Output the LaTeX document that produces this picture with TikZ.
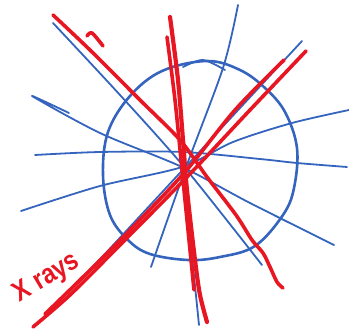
\documentclass[tikz,border=0pt]{standalone}
\usepackage{fontspec}
\setmainfont{Liberation Sans}
\definecolor{pen}{RGB}{52,100,190}
\definecolor{ink}{RGB}{232,22,34}
\begin{document}
\begin{tikzpicture}[x=1pt,y=-1pt,
  bluestroke/.style={draw=pen,line width=1.8pt,line cap=round,line join=round},
  redstroke/.style={draw=ink,line width=3.6pt,line cap=round,line join=round}]
\useasboundingbox (0,0) rectangle (349,329);
% blob circle
\draw[bluestroke,line width=2.6pt] plot[smooth cycle,tension=0.6] coordinates {
 (207,61) (240,70) (265,88) (285,112) (297,148) (294,188) (283,215) (255,246)
 (220,257) (188,260) (150,254) (128,240) (110,215) (103,175) (108,132) (130,96) (162,71)};
% blue rays
\draw[bluestroke] plot[smooth] coordinates {(53,23) (120,95) (185,168) (262,265)};
\draw[bluestroke] plot[smooth] coordinates {(238,5) (223,68) (185,170) (151,267)};
\draw[bluestroke] (302,41) -- (79,282);
\draw[bluestroke] plot[smooth] coordinates {(349,110) (292,123) (233,142) (182,167) (100,186) (21,211)};
\draw[bluestroke] plot[smooth] coordinates {(35,155) (100,152) (183,152) (260,159) (297,163) (347,167)};
\draw[bluestroke] plot[smooth] coordinates {(69,113) (32,96) (100,133) (182,167) (250,203) (334,245)};
\draw[bluestroke] plot[smooth] coordinates {(183,67) (203,60) (225,70)};
\draw[bluestroke] (183,168) -- (199,325);
% red rays
\draw[redstroke] plot[smooth] coordinates {(53,15) (90,50) (140,100) (180,140) (207,177) (236,215) (252,240) (263,253) (270,267) (277,282) (283,288)};
\draw[redstroke] plot[smooth] coordinates {(87,36) (92,33) (103,46)};
\draw[redstroke,line width=4.2pt] plot[smooth] coordinates {(170,17) (178,80) (183,140) (187,190) (195,260) (200,295) (207,322)};
\draw[redstroke] plot[smooth] coordinates {(167,37) (175,100) (182,170) (188,230) (194,290)};
\draw[redstroke] plot[smooth] coordinates {(306,51) (250,110) (187,177) (120,245) (70,295) (33,327)};
\draw[redstroke] plot[smooth] coordinates {(284,60) (235,110) (185,172) (130,230) (80,280) (45,314)};
% label
\node[text=ink,font=\fontsize{28}{28}\selectfont\bfseries,rotate=31,inner sep=0pt,xscale=0.85] (lbl) at (47,278) {X rays};
\end{tikzpicture}
\end{document}
